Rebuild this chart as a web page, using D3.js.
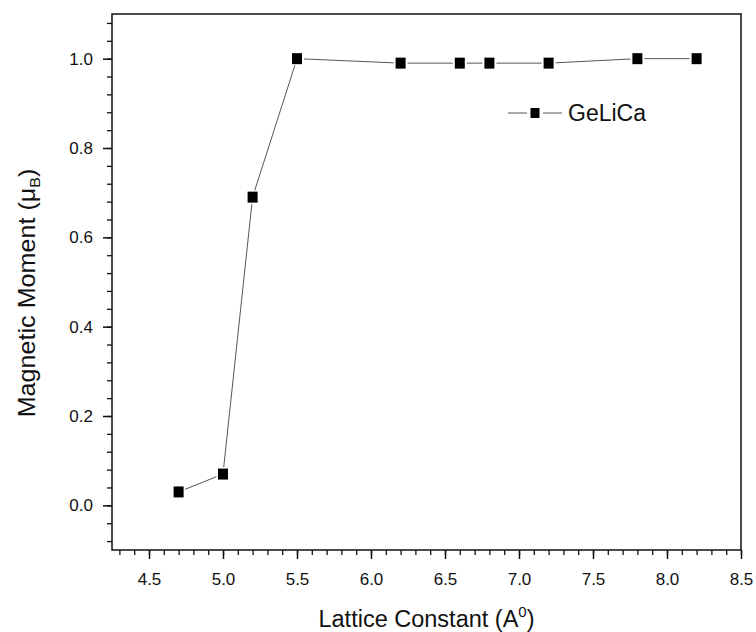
<!DOCTYPE html>
<html>
<head>
<meta charset="utf-8">
<script src="https://cdn.jsdelivr.net/npm/d3@7"></script>
<style>
  body { margin: 0; background: #fff; }
  svg text { font-family: Arial, "Liberation Sans", sans-serif; fill: #111; }
</style>
</head>
<body>
<svg id="chart" width="756" height="632"></svg>
<script>
// ----------- DATA ------------
const latticeConstant = [4.7, 5.0, 5.2, 5.5, 6.2, 6.6, 6.8, 7.2, 7.8, 8.2];
const magneticMoment = [0.03, 0.07, 0.69, 1.0, 0.99, 0.99, 0.99, 0.99, 1.0, 1.0];
const seriesName = "GeLiCa";
const xTicks = [4.5, 5.0, 5.5, 6.0, 6.5, 7.0, 7.5, 8.0, 8.5];
const yTicks = [0.0, 0.2, 0.4, 0.6, 0.8, 1.0];

// ----------- LAYOUT ------------
const margin = { top: 14, right: 15, bottom: 82, left: 112 };
const W = 756, H = 632;
const width = W - margin.left - margin.right;
const height = H - margin.top - margin.bottom;

const svg = d3.select("#chart");
const g = svg.append("g").attr("transform", `translate(${margin.left},${margin.top})`);

const x = d3.scaleLinear().domain([4.25, 8.5]).range([0, width]);
const y = d3.scaleLinear().domain([-0.1, 1.1]).range([height, 0]);

// minor ticks
const xMinor = d3.range(4.3, 8.5001, 0.1).map(v => +v.toFixed(2));
const yMinor = d3.range(-0.08, 1.0801, 0.04).map(v => +v.toFixed(2));

g.append("g")
    .attr("transform", `translate(0,${height})`)
    .call(d3.axisBottom(x).tickValues(xMinor).tickSize(5).tickFormat(""))
    .call(a => a.select(".domain").remove())
    .selectAll("line").attr("stroke", "#111").attr("stroke-width", 1.3);

g.append("g")
    .call(d3.axisLeft(y).tickValues(yMinor).tickSize(5).tickFormat(""))
    .call(a => a.select(".domain").remove())
    .selectAll("line").attr("stroke", "#111").attr("stroke-width", 1.3);

// major ticks
const xAxis = g.append("g")
    .attr("transform", `translate(0,${height})`)
    .call(d3.axisBottom(x).tickValues(xTicks).tickSize(9).tickPadding(14).tickFormat(d3.format(".1f")));
xAxis.select(".domain").remove();
xAxis.selectAll("line").attr("stroke", "#111").attr("stroke-width", 1.5);
xAxis.selectAll("text").attr("font-size", 17).attr("fill", "#111")
    .attr("font-family", "Arial, 'Liberation Sans', sans-serif");

const yAxis = g.append("g")
    .call(d3.axisLeft(y).tickValues(yTicks).tickSize(9).tickPadding(10).tickFormat(d3.format(".1f")));
yAxis.select(".domain").remove();
yAxis.selectAll("line").attr("stroke", "#111").attr("stroke-width", 1.5);
yAxis.selectAll("text").attr("font-size", 17).attr("fill", "#111")
    .attr("font-family", "Arial, 'Liberation Sans', sans-serif");

// frame
g.append("rect")
    .attr("width", width).attr("height", height)
    .attr("fill", "none").attr("stroke", "#111").attr("stroke-width", 1.5);

// ----------- SERIES ------------
const pts = latticeConstant.map((v, i) => [x(v), y(magneticMoment[i])]);
const gap = 7;
for (let i = 0; i < pts.length - 1; i++) {
    const [x0, y0] = pts[i], [x1, y1] = pts[i + 1];
    const len = Math.hypot(x1 - x0, y1 - y0);
    const ux = (x1 - x0) / len, uy = (y1 - y0) / len;
    g.append("line")
        .attr("x1", x0 + ux * gap).attr("y1", y0 + uy * gap)
        .attr("x2", x1 - ux * gap).attr("y2", y1 - uy * gap)
        .attr("stroke", "#555").attr("stroke-width", 1);
}

g.selectAll("rect.pt")
    .data(pts)
    .join("rect")
    .attr("class", "pt")
    .attr("x", d => d[0] - 5).attr("y", d => d[1] - 5.5)
    .attr("width", 10).attr("height", 11)
    .attr("fill", "#000");

// ----------- LEGEND ------------
const lg = svg.append("g").attr("transform", "translate(508,113)");
lg.append("line").attr("x1", 0).attr("x2", 19).attr("stroke", "#555").attr("stroke-width", 1);
lg.append("line").attr("x1", 35).attr("x2", 54).attr("stroke", "#555").attr("stroke-width", 1);
lg.append("rect").attr("x", 22.5).attr("y", -5).attr("width", 9).attr("height", 10).attr("fill", "#000");
lg.append("text").attr("x", 60).attr("y", 8).attr("font-size", 23).text(seriesName);

// ----------- AXIS TITLES ------------
const xt = svg.append("text")
    .attr("x", margin.left + width / 2).attr("y", 627)
    .attr("text-anchor", "middle").attr("font-size", 23.5);
xt.append("tspan").text("Lattice Constant (A");
xt.append("tspan").attr("font-size", 15).attr("dy", -10).text("0");
xt.append("tspan").attr("dy", 10).text(")");

const yt = svg.append("text")
    .attr("transform", `translate(35,293) rotate(-90) scale(1.07,1)`)
    .attr("text-anchor", "middle").attr("font-size", 23.5);
yt.append("tspan").text("Magnetic Moment (\u03bc");
yt.append("tspan").attr("font-size", 15).attr("dy", 5).text("B");
yt.append("tspan").attr("dy", -5).text(")");
</script>
</body>
</html>
